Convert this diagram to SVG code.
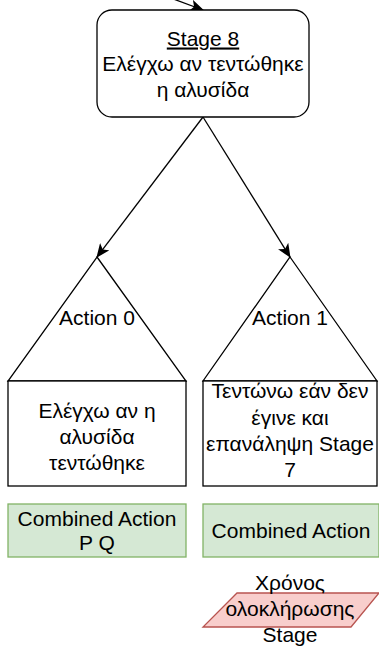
<svg xmlns="http://www.w3.org/2000/svg" width="379" height="652" viewBox="0 0 379 652">
  <style>
    .shape { fill: #ffffff; stroke: #000000; stroke-width: 1.3; }
    .green { fill: #d5e8d4; stroke: #82b366; stroke-width: 1.3; }
    .red { fill: #f8cecc; stroke: #b85450; stroke-width: 1.3; }
    .edge { fill: none; stroke: #000000; stroke-width: 1.3; }
    text { font-family: "Liberation Sans", Arial, sans-serif; font-size: 21px; fill: #000000; text-anchor: middle; }
  </style>
  <defs>
    <marker id="arrow" viewBox="0 0 14 12" refX="13" refY="6" markerWidth="14" markerHeight="12" markerUnits="userSpaceOnUse" orient="auto">
      <path d="M0,0 L14,6 L0,12 L3.5,6 Z" fill="#000000"/>
    </marker>
  </defs>

  <g id="connectors">
    <line class="edge" x1="168" y1="-3" x2="203" y2="10" marker-end="url(#arrow)"/>
    <line class="edge" x1="203" y1="117" x2="97" y2="257" marker-end="url(#arrow)"/>
    <line class="edge" x1="203" y1="117" x2="290" y2="257" marker-end="url(#arrow)"/>
  </g>

  <g id="stage8">
    <rect class="shape" x="97" y="10" width="212" height="107" rx="15" ry="15"/>
    <text x="203" y="45.5" text-decoration="underline">Stage 8</text>
    <text x="203" y="71">Ελέγχω αν τεντώθηκε</text>
    <text x="203" y="96.5">η αλυσίδα</text>
  </g>

  <g id="action0">
    <polygon class="shape" points="97,257 186,381 8,381"/>
    <text x="97" y="325">Action 0</text>
  </g>

  <g id="action1">
    <polygon class="shape" points="290,257 377,381 203,381"/>
    <text x="290" y="325">Action 1</text>
  </g>

  <g id="check">
    <rect class="shape" x="8" y="381" width="178" height="105"/>
    <text x="97" y="418">Ελέγχω αν η</text>
    <text x="97" y="444">αλυσίδα</text>
    <text x="97" y="470">τεντώθηκε</text>
  </g>

  <g id="tighten">
    <rect class="shape" x="203" y="381" width="174" height="105"/>
    <text x="290" y="398">Τεντώνω εάν δεν</text>
    <text x="290" y="424.5">έγινε και</text>
    <text x="290" y="451">επανάληψη Stage</text>
    <text x="290" y="477">7</text>
  </g>

  <g id="combined-pq">
    <rect class="green" x="8" y="504" width="178" height="53"/>
    <text x="97" y="525.5">Combined Action</text>
    <text x="97" y="550">P Q</text>
  </g>

  <g id="combined">
    <rect class="green" x="203" y="504" width="176" height="53"/>
    <text x="291" y="538">Combined Action</text>
  </g>

  <g id="completion-time">
    <polygon class="red" points="237,593 379,593 351,627 203,627"/>
    <text x="290" y="590">Χρόνος</text>
    <text x="290" y="616">ολοκλήρωσης</text>
    <text x="290" y="642">Stage</text>
  </g>
</svg>
